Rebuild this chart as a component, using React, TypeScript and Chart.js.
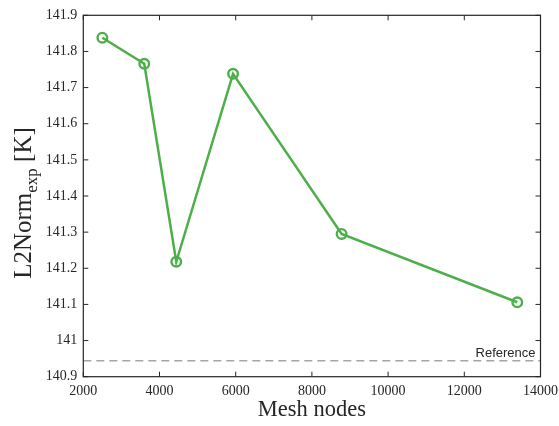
import React, { useEffect, useRef } from "react";
import { Chart, registerables } from "chart.js";

Chart.register(...registerables);

const meshNodes = [2500, 3600, 4440, 5930, 8780, 13390];
const l2norm = [141.838, 141.766, 141.218, 141.738, 141.295, 141.106];
const referenceValue = 140.944;
const referenceLabel = "Reference";
const xTickValues = [2000, 4000, 6000, 8000, 10000, 12000, 14000];
const xTickLabels = ["2000", "4000", "6000", "8000", "10000", "12000", "14000"];
const yTickValues = [140.9, 141, 141.1, 141.2, 141.3, 141.4, 141.5, 141.6, 141.7, 141.8, 141.9];
const yTickLabels = ["140.9", "141", "141.1", "141.2", "141.3", "141.4", "141.5", "141.6", "141.7", "141.8", "141.9"];
const xTitle = "Mesh nodes";
const yTitleMain = "L2Norm";
const yTitleSub = "exp";
const yTitleTail = " [K]";

const SERIF = "'Liberation Serif', 'Times New Roman', serif";
const SANS = "'Liberation Sans', Arial, sans-serif";
const AXIS = "#262626";
const GREEN = "rgb(77,175,74)";

const decorPlugin = {
  id: "decor",
  afterDraw(chart: any) {
    const { ctx, chartArea } = chart;
    const { left, right, top, bottom } = chartArea;
    const xs = chart.scales.x;
    const ys = chart.scales.y;
    ctx.save();
    // box
    ctx.strokeStyle = AXIS;
    ctx.lineWidth = 1.2;
    ctx.strokeRect(left, top, right - left, bottom - top);
    // inward ticks
    ctx.lineWidth = 1;
    const tl = 5;
    ctx.beginPath();
    xTickValues.forEach((v) => {
      const px = xs.getPixelForValue(v);
      ctx.moveTo(px, bottom);
      ctx.lineTo(px, bottom - tl);
      ctx.moveTo(px, top);
      ctx.lineTo(px, top + tl);
    });
    yTickValues.forEach((v) => {
      const py = ys.getPixelForValue(v);
      ctx.moveTo(left, py);
      ctx.lineTo(left + tl, py);
      ctx.moveTo(right, py);
      ctx.lineTo(right - tl, py);
    });
    ctx.stroke();
    // reference label
    ctx.fillStyle = AXIS;
    ctx.font = `13px ${SANS}`;
    ctx.textAlign = "right";
    ctx.textBaseline = "alphabetic";
    ctx.fillText(referenceLabel, right - 5, ys.getPixelForValue(referenceValue) - 4);
    // x title
    ctx.font = `22.5px ${SERIF}`;
    ctx.textAlign = "center";
    ctx.fillText(xTitle, (left + right) / 2, 416);
    // y title with subscript
    const mainFont = `25px ${SERIF}`;
    const subFont = `17px ${SERIF}`;
    ctx.font = mainFont;
    const w1 = ctx.measureText(yTitleMain).width;
    const w3 = ctx.measureText(yTitleTail).width;
    ctx.font = subFont;
    const w2 = ctx.measureText(yTitleSub).width;
    const total = w1 + w2 + w3;
    const cy = (top + bottom) / 2 + 7;
    ctx.translate(31, cy);
    ctx.rotate(-Math.PI / 2);
    ctx.textAlign = "left";
    let x0 = -total / 2;
    ctx.font = mainFont;
    ctx.fillText(yTitleMain, x0, 0);
    x0 += w1;
    ctx.font = subFont;
    ctx.fillText(yTitleSub, x0, 6);
    x0 += w2;
    ctx.font = mainFont;
    ctx.fillText(yTitleTail, x0, 0);
    ctx.restore();
  },
};

export default function App() {
  const ref = useRef<HTMLCanvasElement>(null);
  useEffect(() => {
    if (!ref.current) return;
    const chart = new Chart(ref.current, {
      type: "line",
      data: {
        datasets: [
          {
            label: "L2Norm",
            data: meshNodes.map((x, i) => ({ x, y: l2norm[i] })),
            borderColor: GREEN,
            backgroundColor: "rgba(0,0,0,0)",
            borderWidth: 2.5,
            pointRadius: 4.8,
            pointBorderWidth: 2.4,
            pointBorderColor: GREEN,
            pointBackgroundColor: "rgba(0,0,0,0)",
            tension: 0,
          },
          {
            label: referenceLabel,
            data: [
              { x: xTickValues[0], y: referenceValue },
              { x: xTickValues[xTickValues.length - 1], y: referenceValue },
            ],
            borderColor: "#a6a6a6",
            borderWidth: 1.4,
            borderDash: [8, 5],
            pointRadius: 0,
          },
        ],
      },
      options: {
        animation: false,
        responsive: true,
        maintainAspectRatio: false,
        layout: { padding: { top: 15.3, right: 18.5, left: 0, bottom: 0 } },
        plugins: { legend: { display: false }, tooltip: { enabled: false } },
        scales: {
          x: {
            type: "linear",
            min: 2000,
            max: 14000,
            grid: { display: false, drawTicks: false },
            border: { display: false },
            afterBuildTicks: (s: any) => {
              s.ticks = xTickValues.map((v) => ({ value: v }));
            },
            afterFit: (s: any) => {
              s.height = 49.3;
              s.paddingLeft = 0;
              s.paddingRight = 0;
            },
            ticks: {
              padding: 6,
              maxRotation: 0,
              autoSkip: false,
              color: AXIS,
              font: { family: SERIF, size: 14 },
              callback: (_v: any, i: number) => xTickLabels[i],
            },
          },
          y: {
            type: "linear",
            min: 140.9,
            max: 141.9,
            grid: { display: false, drawTicks: false },
            border: { display: false },
            afterBuildTicks: (s: any) => {
              s.ticks = yTickValues.map((v) => ({ value: v }));
            },
            afterFit: (s: any) => {
              s.width = 83.3;
              s.paddingTop = 0;
              s.paddingBottom = 0;
            },
            ticks: {
              padding: 6,
              autoSkip: false,
              color: AXIS,
              font: { family: SERIF, size: 14 },
              callback: (_v: any, i: number) => yTickLabels[i],
            },
          },
        },
      },
      plugins: [decorPlugin],
    });
    return () => chart.destroy();
  }, []);
  return (
    <div style={{ position: "fixed", left: 0, top: 0, width: 559, height: 426, background: "#fff" }}>
      <canvas ref={ref} />
    </div>
  );
}
